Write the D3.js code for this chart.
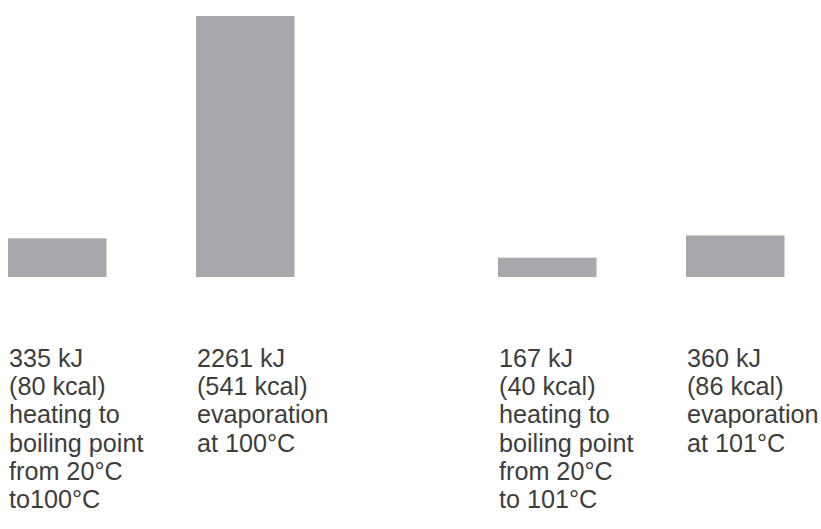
<!DOCTYPE html>
<html>
<head>
<meta charset="utf-8">
<script src="https://cdn.jsdelivr.net/npm/d3@7"></script>
<style>
  html, body { margin: 0; padding: 0; background: #ffffff; }
  svg { display: block; }
</style>
</head>
<body>
<svg id="chart" width="821" height="529"></svg>
<script>
// ---- data ----
const groups = ["boiling at 100°C", "boiling at 101°C"];
const steps = ["heating", "evaporation"];
const energyKJ = [335, 2261, 167, 360];
const energyKcal = [80, 541, 40, 86];
const descriptions = [
  ["heating to", "boiling point", "from 20°C", "to100°C"],
  ["evaporation", "at 100°C"],
  ["heating to", "boiling point", "from 20°C", "to 101°C"],
  ["evaporation", "at 101°C"]
];

const rows = energyKJ.map((v, i) => ({
  group: groups[Math.floor(i / 2)],
  step: steps[i % 2],
  kj: v,
  kcal: energyKcal[i],
  lines: [`${v} kJ`, `(${energyKcal[i]} kcal)`].concat(descriptions[i])
}));

// ---- layout ----
const svg = d3.select("#chart");
const baseY = 277, topY = 16;

const xGroup = d3.scaleBand().domain(groups).range([8, 988]).paddingInner(0).paddingOuter(0);
const xStep = d3.scaleBand().domain(steps).range([0, 286.5]).paddingInner(0.476).paddingOuter(0);
const y = d3.scaleLinear().domain([0, d3.max(energyKJ)]).range([baseY, topY]);

const xPos = d => xGroup(d.group) + xStep(d.step);

svg.append("g")
  .selectAll("rect")
  .data(rows)
  .join("rect")
  .attr("x", xPos)
  .attr("y", d => y(d.kj))
  .attr("width", xStep.bandwidth())
  .attr("height", d => baseY - y(d.kj))
  .attr("fill", "#a7a8ab");

const lineH = 28.2, firstBase = 367;
const labels = svg.append("g")
  .attr("font-family", "'Liberation Sans', Arial, Helvetica, sans-serif")
  .attr("font-size", 25.2)
  .attr("fill", "#3d3d3d")
  .selectAll("text")
  .data(rows)
  .join("text")
  .attr("x", d => xPos(d) + 1)
  .attr("y", firstBase);

labels.selectAll("tspan")
  .data(d => d.lines.map(t => ({ t, x: xPos(d) + 1 })))
  .join("tspan")
  .attr("x", d => d.x)
  .attr("y", (d, i) => firstBase + i * lineH)
  .text(d => d.t);
</script>
</body>
</html>
